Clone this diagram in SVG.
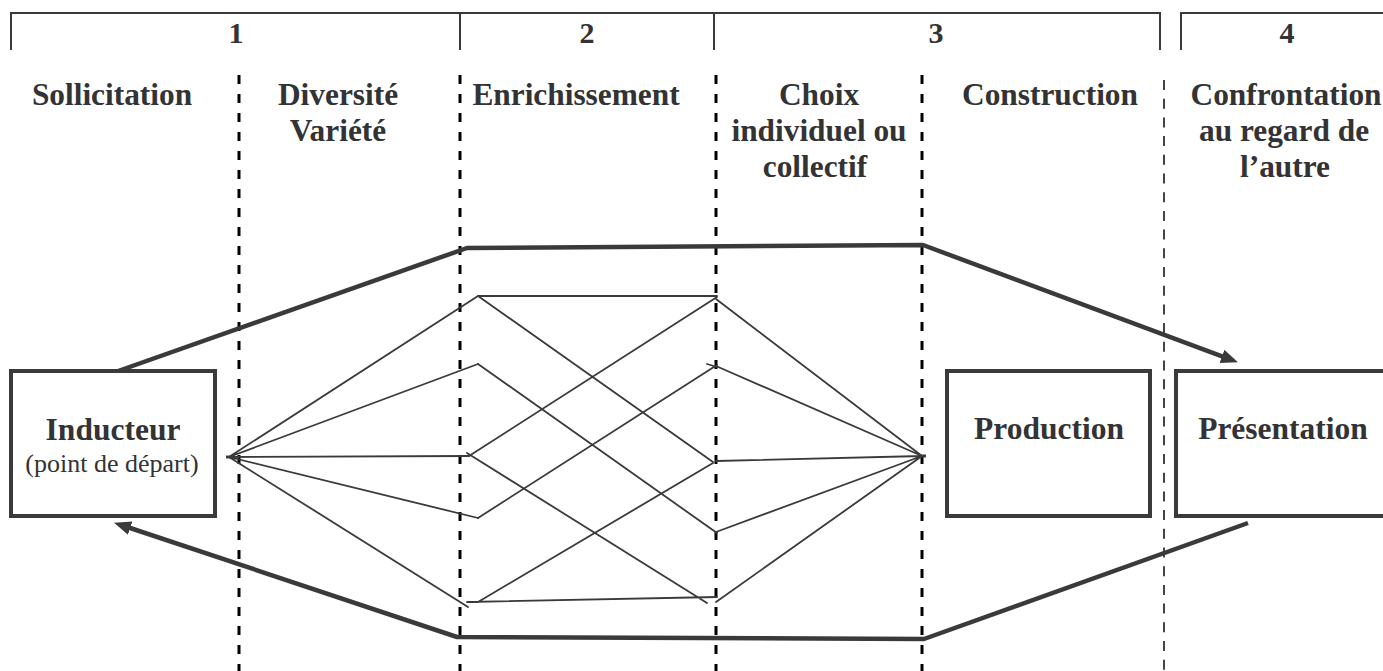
<svg xmlns="http://www.w3.org/2000/svg" width="1383" height="671" viewBox="0 0 1383 671">
<style>
  .bracket { fill: none; stroke: #3a3a3c; stroke-width: 2; }
  .num { font-family: "Liberation Serif", "Times New Roman", serif; font-weight: bold; font-size: 30px; fill: #333335; text-anchor: middle; }
  .h { font-family: "Liberation Serif", "Times New Roman", serif; font-weight: bold; font-size: 32.5px; fill: #333335; text-anchor: middle; }
  .nt { font-family: "Liberation Serif", "Times New Roman", serif; font-weight: bold; font-size: 31.5px; fill: #333335; text-anchor: middle; }
  .ns { font-family: "Liberation Serif", "Times New Roman", serif; font-size: 26px; fill: #333335; text-anchor: middle; }
  .box { fill: #ffffff; stroke: #3a3a3c; stroke-width: 4; }
  .sep { fill: none; stroke: #000000; stroke-width: 3; stroke-dasharray: 9 10; }
  .sep2 { fill: none; stroke: #444446; stroke-width: 2; stroke-dasharray: 10 8.7; }
  .thin { fill: none; stroke: #3a3a3c; stroke-width: 1.8; stroke-linecap: round; }
  .thick { fill: none; stroke: #3a3a3c; stroke-width: 4.5; stroke-linejoin: round; }
</style>
<defs>
  <marker id="arrow" markerUnits="userSpaceOnUse" markerWidth="18" markerHeight="16" refX="8" refY="7" orient="auto">
    <path d="M0,0 L17,7 L0,14 Z" fill="#3a3a3c"/>
  </marker>
</defs>

<g id="phases">
  <path class="bracket" d="M11,50 V13 H1160 V50 M460,13 V50 M714,13 V50"/>
  <path class="bracket" d="M1181,50 V13 H1383"/>
  <text class="num" x="236" y="43">1</text>
  <text class="num" x="587" y="43">2</text>
  <text class="num" x="936" y="43">3</text>
  <text class="num" x="1287" y="43">4</text>
</g>

<g id="separators">
  <line class="sep" x1="239" y1="75" x2="239" y2="671"/>
  <line class="sep" x1="460" y1="75" x2="460" y2="671"/>
  <line class="sep" x1="716" y1="75" x2="716" y2="671"/>
  <line class="sep" x1="922" y1="75" x2="922" y2="671"/>
  <line class="sep2" x1="1164" y1="80" x2="1164" y2="671"/>
</g>

<g id="headings">
  <text class="h" transform="translate(112,105) scale(0.965,1)">Sollicitation</text>
  <text class="h" transform="translate(338,105) scale(0.965,1)">Diversité</text>
  <text class="h" transform="translate(338,141) scale(0.965,1)">Variété</text>
  <text class="h" transform="translate(576,105) scale(0.965,1)">Enrichissement</text>
  <text class="h" transform="translate(819,105) scale(0.965,1)">Choix</text>
  <text class="h" transform="translate(819,141) scale(0.965,1)">individuel ou</text>
  <text class="h" transform="translate(815,177) scale(0.965,1)">collectif</text>
  <text class="h" transform="translate(1050,105) scale(0.965,1)">Construction</text>
  <text class="h" transform="translate(1286,105) scale(0.965,1)">Confrontation</text>
  <text class="h" transform="translate(1284,141) scale(0.965,1)">au regard de</text>
  <text class="h" transform="translate(1285,177) scale(0.965,1)">l’autre</text>
</g>

<g id="connectors">
  <path class="thin" d="M229,457 L478,296 M229,457 L478,364 M229,457 L469,456 M229,457 L478,518 M229,457 L468,607"/>
  <path class="thin" d="M478,296 L717,296 M478,296 L713,462 M478,364 L717,533 M467,453 L707,603 M469,456 L717,297 M478,518 L717,365 M707,364 L717,367 M467,602 L717,597 M478,602 L713,463"/>
  <path class="thin" d="M716,299 L922,456 M716,366 L922,456 M716,461 L922,456 M716,532 L922,456 M716,602 L922,456"/>
  <path d="M226,457 H233" stroke="#3a3a3c" stroke-width="3"/>
  <path d="M919,456 H926" stroke="#3a3a3c" stroke-width="3"/>
  <path class="thick" d="M104,376 L467,248 L923,245 L1229.5,359.2" marker-end="url(#arrow)"/>
  <path class="thick" d="M1248,523 L924,639 L457,637 L122.6,525.5" marker-end="url(#arrow)"/>
</g>

<g id="inducteur">
  <rect class="box" x="11" y="371" width="204" height="145"/>
  <text class="nt" x="113" y="440">Inducteur</text>
  <text class="ns" x="112" y="472">(point de départ)</text>
</g>

<g id="production">
  <rect class="box" x="947" y="371" width="203" height="145"/>
  <text class="nt" x="1049" y="439">Production</text>
</g>

<g id="presentation">
  <rect class="box" x="1176" y="371" width="220" height="145"/>
  <text class="nt" x="1283" y="439">Présentation</text>
</g>
</svg>
